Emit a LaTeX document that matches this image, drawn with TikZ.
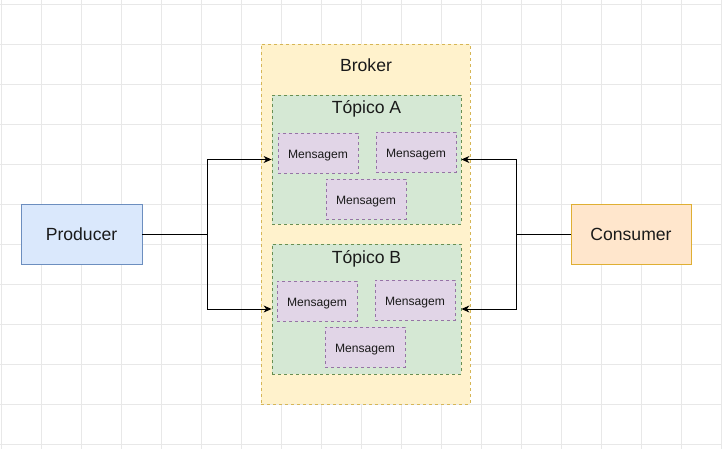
\documentclass[tikz,border=0pt]{standalone}
\usepackage{fontspec}
\setmainfont{Liberation Sans}
\usetikzlibrary{arrows.meta}
\definecolor{gridc}{HTML}{E8E8E8}
\definecolor{brokerfill}{HTML}{FFF2CC}
\definecolor{brokerline}{HTML}{D6B656}
\definecolor{topfill}{HTML}{D5E8D4}
\definecolor{topline}{HTML}{82B366}
\definecolor{msgfill}{HTML}{E1D5E7}
\definecolor{msgline}{HTML}{9673A6}
\definecolor{prodfill}{HTML}{DAE8FC}
\definecolor{prodline}{HTML}{6C8EBF}
\definecolor{consfill}{HTML}{FFE6CC}
\definecolor{consline}{HTML}{D79B00}
\definecolor{txt}{HTML}{1A1A1A}
\tikzset{
  dsh/.style={dash pattern=on 3pt off 3pt},
  brokerbox/.style={draw=brokerline, fill=brokerfill, dsh, line width=0.8pt, minimum width=209pt, minimum height=360pt, inner sep=0pt},
  topbox/.style={draw=topline!80!black, fill=topfill, dsh, line width=0.8pt, minimum width=189pt, inner sep=0pt},
  msgbox/.style={draw=msgline, fill=msgfill, dsh, line width=0.8pt, minimum width=80pt, minimum height=40pt, inner sep=0pt, text height=11.5pt, text depth=0pt, font=\fontsize{12.1}{14}\selectfont, text=txt},
  bigtxt/.style={font=\fontsize{17.6}{20}\selectfont, text=txt, inner sep=0pt},
  endbox/.style={line width=0.9pt, minimum width=121pt, minimum height=60pt, inner sep=0pt, font=\fontsize{17.6}{20}\selectfont, text=txt},
  conn/.style={line width=1pt, -{Stealth[length=8pt,width=7pt,inset=2.5pt]}},
}
\begin{document}
\begin{tikzpicture}[x=1pt,y=-1pt]
\useasboundingbox (0,0) rectangle (722,449);
\fill[white] (0,0) rectangle (722,449);
\foreach \gx in {1.5,41.5,...,721.5} \draw[gridc, line width=1pt] (\gx,0) -- (\gx,449);
\foreach \gy in {4.5,44.5,...,444.5} \draw[gridc, line width=1pt] (0,\gy) -- (722,\gy);

\node[brokerbox] (broker) at (365.5,224) {};
\node[bigtxt] (brokerlbl) at (366,65) {Broker};

\node[topbox, minimum height=129pt] (topA) at (366.5,159.5) {};
\node[bigtxt] (topAlbl) at (366.5,109) {Tópico A};
\node[msgbox] (mA1) at (318,153) {Mensagem};
\node[msgbox] (mA2) at (416,152) {Mensagem};
\node[msgbox] (mA3) at (366,199) {Mensagem};

\node[topbox, minimum height=130pt] (topB) at (366.5,309) {};
\node[bigtxt] (topBlbl) at (366.5,259) {Tópico B};
\node[msgbox] (mB1) at (317,301) {Mensagem};
\node[msgbox] (mB2) at (415,300) {Mensagem};
\node[msgbox] (mB3) at (365,347) {Mensagem};

\node[endbox, draw=prodline, fill=prodfill] (prod) at (81.5,234) {Producer};
\node[endbox, draw=consline!80!white, fill=consfill, minimum width=120pt] (cons) at (631,234) {Consumer};

\coordinate (pj) at (207,234);
\coordinate (cj) at (516,234);
\draw[line width=1pt] (prod.east) -- (pj);
\draw[conn] (pj) |- (topA.west);
\draw[conn] (pj) |- (topB.west);
\draw[line width=1pt] (cons.west) -- (cj);
\draw[conn] (cj) |- (topA.east);
\draw[conn] (cj) |- (topB.east);
\end{tikzpicture}
\end{document}
